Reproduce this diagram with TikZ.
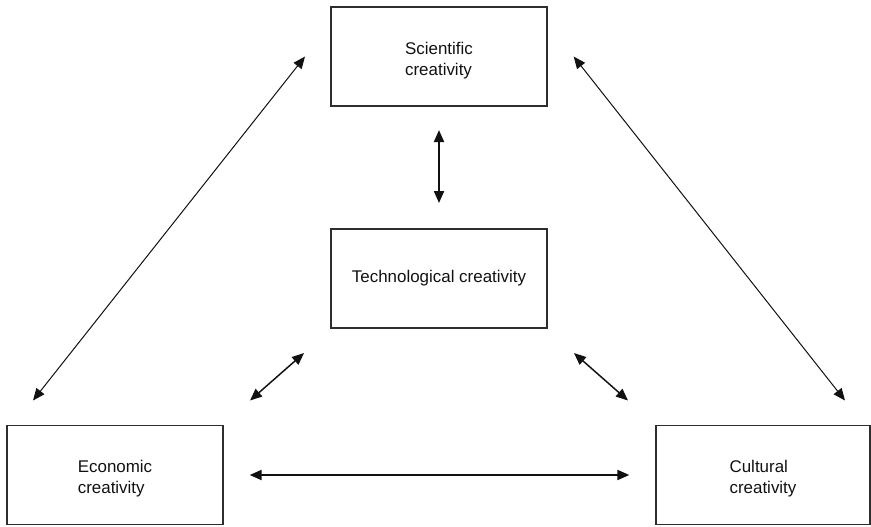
\documentclass[tikz,border=0pt]{standalone}
\usepackage{fontspec}
\setmainfont{Liberation Sans}
\usepackage{tikz}
\usetikzlibrary{arrows.meta, positioning}
\definecolor{frame}{HTML}{2E2E2E}
\definecolor{ink}{HTML}{111111}

\begin{document}
\begin{tikzpicture}[
  area/.style={
    rectangle, draw=frame, line width=0.9pt, outer sep=0pt,
    minimum width=162pt, minimum height=74.25pt,
    font=\fontsize{12.7}{15.5}\selectfont, align=left, text=ink,
  },
  pair/.style={area, text height=30.5pt},
  link/.style={{Triangle[length=9pt,width=7.5pt]}-{Triangle[length=9pt,width=7.5pt]}, color=ink, line width=0.75pt},
  strong/.style={link, line width=1.5pt},
  medium/.style={link, line width=1.1pt},
]
\useasboundingbox (0,0) rectangle (653.25pt,-394.5pt);
\node[pair] (sci) at (329.25pt,-42.4pt) {Scientific\\creativity};
\node[area, below=92.25pt of sci] (tech) {Technological creativity};
\node[pair] (econ) at (86.25pt,-356.25pt) {Economic\\creativity};
\node[pair, minimum width=160.5pt, right=324.75pt of econ] (cult) {Cultural\\creativity};
\draw[strong, shorten <=18pt, shorten >=19.5pt] (sci) -- (tech);
\draw[strong, shorten <=20pt, shorten >=20pt] (econ) -- (cult);
\draw[link] ([xshift=-19.5pt]sci.west) -- ([xshift=19.5pt, yshift=18.75pt]econ.north west);
\draw[link] ([xshift=20pt]sci.east) -- ([xshift=-18.75pt, yshift=18.75pt]cult.north east);
\draw[medium] ([xshift=-20.25pt, yshift=-18.75pt]tech.south west) -- ([xshift=20.25pt, yshift=18.75pt]econ.north east);
\draw[medium] ([xshift=20.25pt, yshift=-18.75pt]tech.south east) -- ([xshift=-21pt, yshift=18.75pt]cult.north west);
\end{tikzpicture}
\end{document}
